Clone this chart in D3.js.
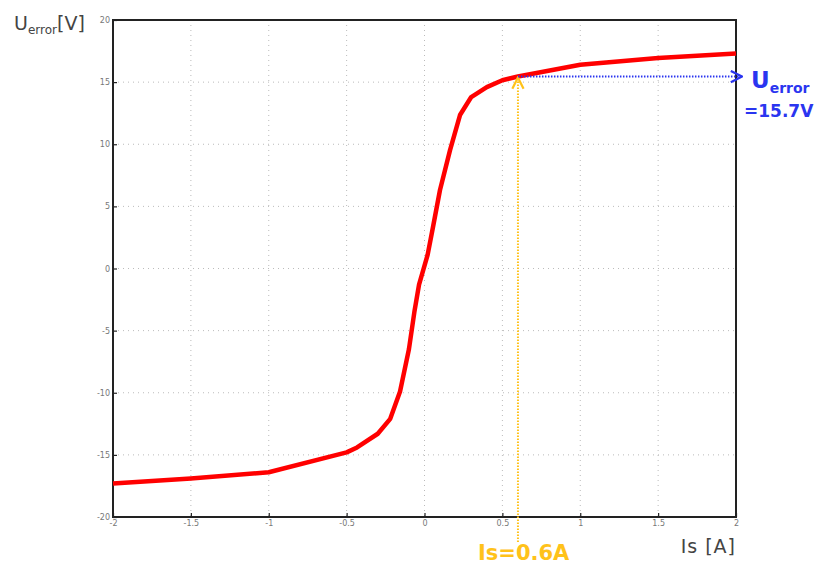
<!DOCTYPE html>
<html><head><meta charset="utf-8">
<script src="https://cdn.jsdelivr.net/npm/d3@7"></script>
<style>body{margin:0;background:#fff}svg{display:block}text{font-family:"DejaVu Sans",sans-serif}</style>
</head><body>
<svg id="c" width="819" height="565"></svg>
<script>
const xTicks = [-2,-1.5,-1,-0.5,0,0.5,1,1.5,2];
const yTicks = [-20,-15,-10,-5,0,5,10,15,20];
const curveX = [-2,-1.5,-1,-0.5,-0.433,-0.3,-0.22,-0.157,-0.1,-0.065,-0.035,0.02,0.0546,0.0995,0.164,0.228,0.3,0.4,0.5,0.6,1.0,1.5,2];
const curveY = [-17.3,-16.9,-16.4,-14.8,-14.4,-13.3,-12.1,-9.9,-6.5,-3.5,-1.3,1.1,3.34,6.32,9.53,12.35,13.8,14.6,15.15,15.45,16.4,16.95,17.3];
const markIs = 0.6, markU = 15.45;

const svg = d3.select("#c");
const m = {l:113, r:736, t:20, b:517};
const x = d3.scaleLinear().domain([-2,2]).range([m.l,m.r]);
const y = d3.scaleLinear().domain([-20,20]).range([m.b,m.t]);

const defs = svg.append("defs");
function arrow(id,color){
  defs.append("marker").attr("id",id).attr("viewBox","0 0 10 10").attr("refX",9).attr("refY",5)
    .attr("markerWidth",7).attr("markerHeight",7).attr("orient","auto-start-reverse")
    .append("path").attr("d","M1,1 L9,5 L1,9").attr("fill","none").attr("stroke",color).attr("stroke-width",1.6);
}
arrow("ao","#ffc21a"); arrow("ab","#2a35f0");

// grid
const g = svg.append("g");
g.selectAll(".gx").data(xTicks.slice(1,-1)).join("line")
 .attr("x1",d=>x(d)).attr("x2",d=>x(d)).attr("y1",m.t).attr("y2",m.b)
 .attr("stroke","#bbb").attr("stroke-width",1).attr("stroke-dasharray","1,4");
g.selectAll(".gy").data(yTicks.slice(1,-1)).join("line")
 .attr("y1",d=>y(d)).attr("y2",d=>y(d)).attr("x1",m.l).attr("x2",m.r)
 .attr("stroke","#bbb").attr("stroke-width",1).attr("stroke-dasharray","1,4");

// axes
const xa = svg.append("g").attr("transform",`translate(0,${m.b})`)
 .call(d3.axisBottom(x).tickValues(xTicks).tickSize(-4).tickPadding(3).tickFormat(d=>String(d)));
const ya = svg.append("g").attr("transform",`translate(${m.l},0)`)
 .call(d3.axisLeft(y).tickValues(yTicks).tickSize(-4).tickPadding(3).tickFormat(d=>String(d)));
[xa,ya].forEach(a=>{
  a.select(".domain").remove();
  a.selectAll(".tick line").attr("stroke","#222").attr("stroke-width",1.2);
  a.selectAll(".tick text").attr("fill","#777").attr("font-size",8);
});
svg.append("rect").attr("x",m.l).attr("y",m.t).attr("width",m.r-m.l).attr("height",m.b-m.t)
 .attr("fill","none").attr("stroke","#222").attr("stroke-width",2);

// curve
const pts = curveX.map((v,i)=>[v,curveY[i]]);
svg.append("path").datum(pts)
 .attr("d",d3.line().x(d=>x(d[0])).y(d=>y(d[1])))
 .attr("fill","none").attr("stroke","#ff0000").attr("stroke-width",4.5).attr("stroke-linejoin","round");

// annotations
svg.append("line").attr("x1",x(markIs)).attr("x2",x(markIs)).attr("y1",542).attr("y2",y(markU)+1)
 .attr("stroke","#ffc21a").attr("stroke-width",2).attr("stroke-dasharray","1.5,1.5").attr("marker-end","url(#ao)");
svg.append("line").attr("x1",x(markIs)).attr("x2",742).attr("y1",y(markU)).attr("y2",y(markU))
 .attr("stroke","#2a35f0").attr("stroke-width",2).attr("stroke-dasharray","1.5,1.5").attr("marker-end","url(#ab)");

svg.append("text").attr("x",478).attr("y",560).attr("fill","#ffc21a").attr("font-size",21).attr("font-weight","bold").text("Is=0.6A");
svg.append("text").attr("x",736).attr("y",553).attr("text-anchor","end").attr("fill","#444").attr("font-size",19).attr("letter-spacing",1).text("Is [A]");

const ut = svg.append("text").attr("x",751).attr("y",88).attr("fill","#2a35f0").attr("font-weight","bold").attr("font-size",23);
ut.append("tspan").text("U");
ut.append("tspan").attr("font-size",14).attr("dy",5).text("error");
svg.append("text").attr("x",744).attr("y",117).attr("fill","#2a35f0").attr("font-weight","bold").attr("font-size",17).text("=15.7V");

const yl = svg.append("text").attr("x",14).attr("y",30).attr("fill","#444").attr("font-size",19);
yl.append("tspan").text("U");
yl.append("tspan").attr("font-size",12).attr("dy",4).text("error");
yl.append("tspan").attr("dy",-4).text("[V]");
</script>
</body></html>
